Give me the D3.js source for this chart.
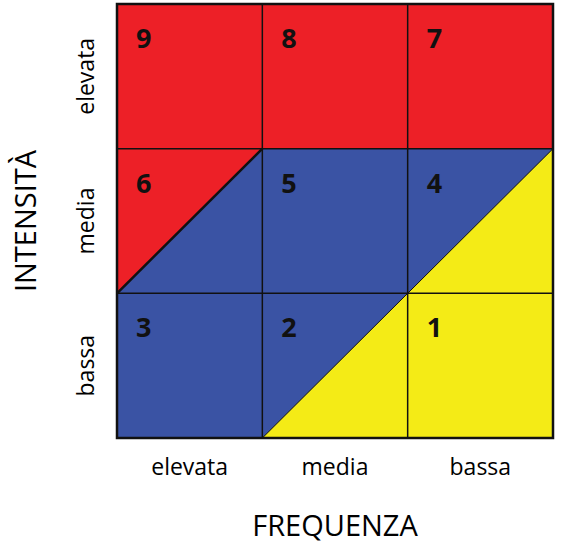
<!DOCTYPE html>
<html lang="it">
<head>
<meta charset="UTF-8">
<title>Matrice rischio</title>
<script src="https://d3js.org/d3.v7.min.js"></script>
<style>
  body { margin: 0; background: #fff; }
  text { font-family: "Open Sans", "Noto Sans", sans-serif; }
</style>
</head>
<body>
<div id="chart"></div>
<script>
// columns = frequenza, rows = intensità (top to bottom)
const freq = ["elevata", "media", "bassa"];
const intens = ["elevata", "media", "bassa"];
const scores = [[9, 8, 7], [6, 5, 4], [3, 2, 1]];
// colour zones in grid units (x: 0..3 left→right, y: 0..3 top→bottom)
const zones = [
  { name: "medio", color: "#3a53a4", pts: [[0, 1], [3, 1], [3, 3], [0, 3]] },
  { name: "alto", color: "#ed2027", pts: [[0, 0], [3, 0], [3, 1], [1, 1], [0, 2], [0, 1]] },
  { name: "basso", color: "#f4eb16", pts: [[1, 3], [3, 3], [3, 1]] }
];

const svg = d3.select("#chart").append("svg")
  .attr("width", 562).attr("height", 544);

const x = d3.scaleBand().domain(freq.map((d, i) => i)).range([117, 553]);
const y = d3.scaleBand().domain(intens.map((d, i) => i)).range([4, 438]);
const gx = d3.scaleLinear().domain([0, 3]).range([117, 553]);
const gy = d3.scaleLinear().domain([0, 3]).range([4, 438]);

svg.selectAll("path.zone").data(zones).enter().append("path")
  .attr("class", "zone")
  .attr("fill", d => d.color)
  .attr("d", d => d3.line().x(p => gx(p[0])).y(p => gy(p[1]))(d.pts) + "Z");

// grid
const g = svg.append("g").attr("stroke", "#111").attr("stroke-width", 1.5);
d3.range(4).forEach(i => {
  g.append("line").attr("x1", gx(i)).attr("x2", gx(i)).attr("y1", gy(0)).attr("y2", gy(3));
  g.append("line").attr("x1", gx(0)).attr("x2", gx(3)).attr("y1", gy(i)).attr("y2", gy(i));
});
// diagonals
g.append("line").attr("x1", gx(0)).attr("y1", gy(2)).attr("x2", gx(1)).attr("y2", gy(1))
  .attr("stroke-width", 2.5);
g.append("line").attr("x1", gx(1)).attr("y1", gy(3)).attr("x2", gx(3)).attr("y2", gy(1))
  .attr("stroke-width", 1);
g.append("rect").attr("x", gx(0)).attr("y", gy(0)).attr("width", gx(3) - gx(0)).attr("height", gy(3) - gy(0))
  .attr("fill", "none").attr("stroke-width", 2.5);

// scores
scores.forEach((row, r) => row.forEach((v, c) => {
  svg.append("text").attr("x", x(c) + 19).attr("y", y(r) + 44)
    .attr("font-size", 27).attr("font-weight", "bold").attr("fill", "#111").text(v);
}));

// axis labels
freq.forEach((f, i) => {
  svg.append("text").attr("x", x(i) + x.bandwidth() / 2).attr("y", 475)
    .attr("text-anchor", "middle").attr("font-size", 23).text(f);
});
intens.forEach((f, i) => {
  const cy = y(i) + y.bandwidth() / 2;
  svg.append("text").attr("transform", `translate(94,${cy}) rotate(-90)`)
    .attr("text-anchor", "middle").attr("font-size", 23).text(f);
});
svg.append("text").attr("x", gx(1.5)).attr("y", 536).attr("text-anchor", "middle")
  .attr("font-size", 29).text("FREQUENZA");
svg.append("text").attr("transform", `translate(36,${gy(1.5)}) rotate(-90)`)
  .attr("text-anchor", "middle").attr("font-size", 29).text("INTENSITÀ");
</script>
</body>
</html>
